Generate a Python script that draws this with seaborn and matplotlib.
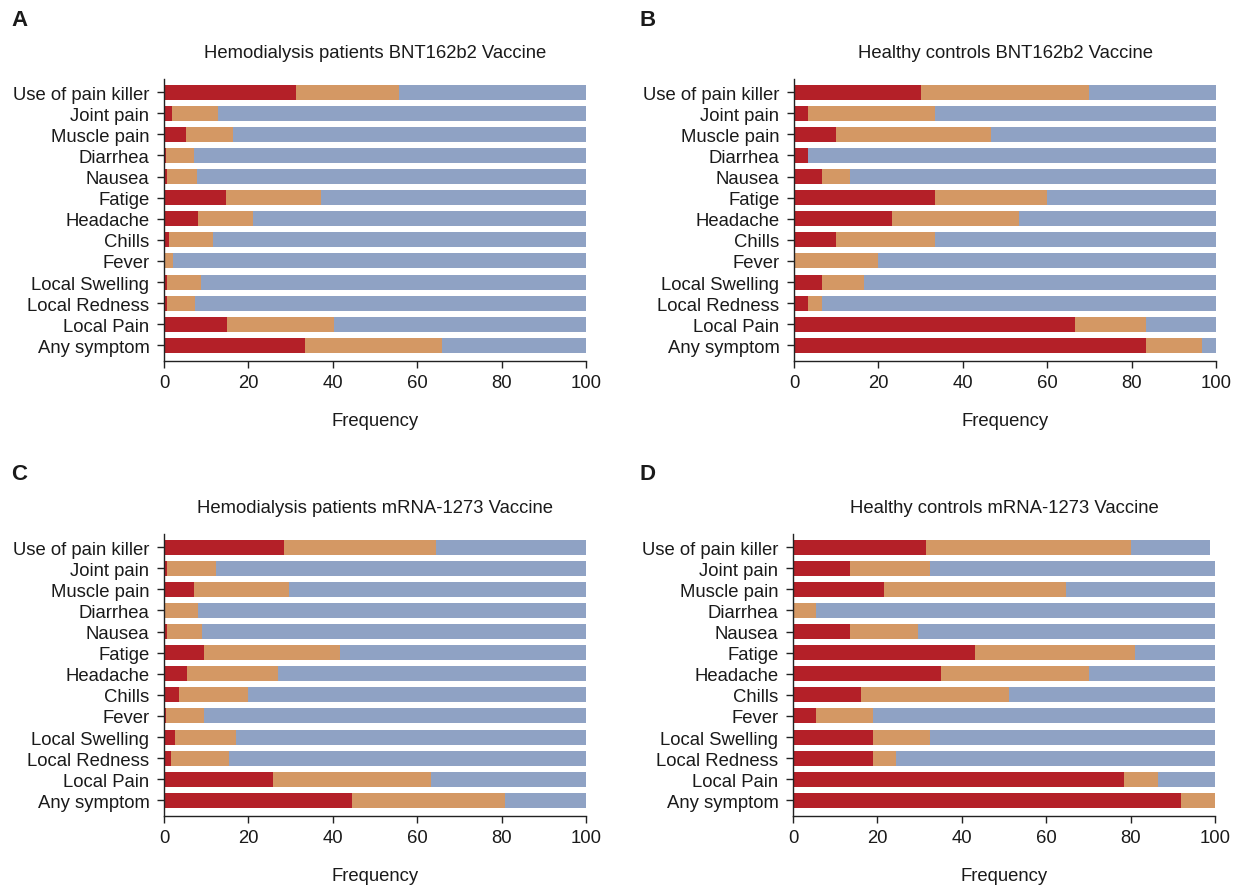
import numpy as np
import matplotlib
matplotlib.use("Agg")
import matplotlib.pyplot as plt
import seaborn as sns

categories = ["Use of pain killer", "Joint pain", "Muscle pain", "Diarrhea", "Nausea",
              "Fatige", "Headache", "Chills", "Fever", "Local Swelling", "Local Redness",
              "Local Pain", "Any symptom"]

# Segment widths (percent) per panel: red, orange, blue
a_red = [31.3, 1.9, 5.2, 0.5, 0.7, 14.7, 8.1, 1.2, 0.0, 0.7, 0.7, 14.9, 33.4]
a_orange = [24.5, 10.9, 11.2, 6.5, 7.2, 22.6, 13.1, 10.5, 2.1, 8.1, 6.7, 25.4, 32.5]
a_blue = [44.2, 87.2, 83.6, 93.0, 92.1, 62.7, 78.8, 88.3, 97.9, 91.2, 92.6, 59.7, 34.1]

b_red = [30.0, 3.3, 10.0, 3.3, 6.7, 33.3, 23.3, 10.0, 0.0, 6.7, 3.3, 66.7, 83.3]
b_orange = [40.0, 30.0, 36.7, 0.0, 6.6, 26.7, 30.0, 23.3, 20.0, 10.0, 3.3, 16.7, 13.4]
b_blue = [30.0, 66.7, 53.3, 96.7, 86.7, 40.0, 46.7, 66.7, 80.0, 83.3, 93.4, 16.6, 3.3]

c_red = [28.4, 0.7, 7.1, 0.0, 0.7, 9.5, 5.5, 3.6, 0.5, 2.6, 1.7, 25.8, 44.5]
c_orange = [36.1, 11.6, 22.6, 8.1, 8.3, 32.2, 21.4, 16.3, 9.0, 14.5, 13.8, 37.5, 36.4]
c_blue = [35.5, 87.7, 70.3, 91.9, 91.0, 58.3, 73.1, 80.1, 90.5, 82.9, 84.5, 36.7, 19.1]

d_red = [31.4, 13.5, 21.6, 0.0, 13.5, 43.2, 35.1, 16.2, 5.4, 18.9, 18.9, 78.4, 91.9]
d_orange = [48.8, 18.9, 43.2, 5.4, 16.2, 37.8, 35.1, 35.1, 13.5, 13.5, 5.4, 8.1, 8.1]
d_blue = [18.6, 67.6, 35.2, 94.6, 70.3, 19.0, 29.8, 48.7, 81.1, 67.6, 75.7, 13.5, 0.0]

titles = ["Hemodialysis patients BNT162b2 Vaccine", "Healthy controls BNT162b2 Vaccine",
          "Hemodialysis patients mRNA-1273 Vaccine", "Healthy controls mRNA-1273 Vaccine"]
letters = ["A", "B", "C", "D"]
x_ticks = [0, 20, 40, 60, 80, 100]

RED = "#B42028"
ORANGE = "#D49864"
BLUE = "#8FA2C4"
TXT = "#1a1a1a"

sns.set_style("ticks")
plt.rcParams["font.family"] = ["Liberation Sans", "DejaVu Sans"]
plt.rcParams["axes.edgecolor"] = "#222222"
plt.rcParams["text.color"] = TXT
plt.rcParams["xtick.color"] = "#222222"
plt.rcParams["ytick.color"] = "#222222"
plt.rcParams["xtick.labelcolor"] = TXT
plt.rcParams["ytick.labelcolor"] = TXT
plt.rcParams["axes.labelcolor"] = TXT

fig = plt.figure(figsize=(12.39, 8.87), dpi=100)
W, H = 1239.0, 887.0
FS = 13.3

panels = [
    (a_red, a_orange, a_blue, 164, 80, 586, 362, (11, 20)),
    (b_red, b_orange, b_blue, 794, 80, 1216, 362, (640, 20)),
    (c_red, c_orange, c_blue, 164, 535, 586, 817, (11, 475)),
    (d_red, d_orange, d_blue, 793, 535, 1215, 817, (640, 475)),
]

for i, (r, o, b, x0, y0, x1, y1, lp) in enumerate(panels):
    ax = fig.add_axes([x0 / W, 1 - y1 / H, (x1 - x0) / W, (y1 - y0) / H])
    r = np.array(r)
    o = np.array(o)
    b = np.array(b)
    tot = r + o + b
    ro = r + o
    sns.barplot(x=tot, y=categories, orient="h", color=BLUE, width=0.71,
                linewidth=0, saturation=1, ax=ax)
    sns.barplot(x=ro, y=categories, orient="h", color=ORANGE, width=0.71,
                linewidth=0, saturation=1, ax=ax)
    sns.barplot(x=r, y=categories, orient="h", color=RED, width=0.71,
                linewidth=0, saturation=1, ax=ax)
    ax.set_xlim(0, 100)
    ax.set_ylim(12.74, -0.62)
    ax.set_xticks(x_ticks)
    ax.set_xticklabels([str(t) for t in x_ticks], fontsize=FS)
    ax.set_yticks(range(len(categories)))
    ax.set_yticklabels(categories, fontsize=FS)
    ax.tick_params(axis="x", length=5, width=1, pad=4.5)
    ax.tick_params(axis="y", length=5, width=1, pad=5.5)
    ax.set_xlabel("Frequency", fontsize=FS, labelpad=15)
    ax.set_ylabel("")
    ax.set_title(titles[i], fontsize=FS, pad=16)
    sns.despine(ax=ax)
    for s in ["left", "bottom"]:
        ax.spines[s].set_linewidth(1)
    fig.text(lp[0] / W, 1 - lp[1] / H, letters[i], fontsize=16, fontweight="bold",
             va="center", ha="left")

fig.savefig("out.png", dpi=100)
